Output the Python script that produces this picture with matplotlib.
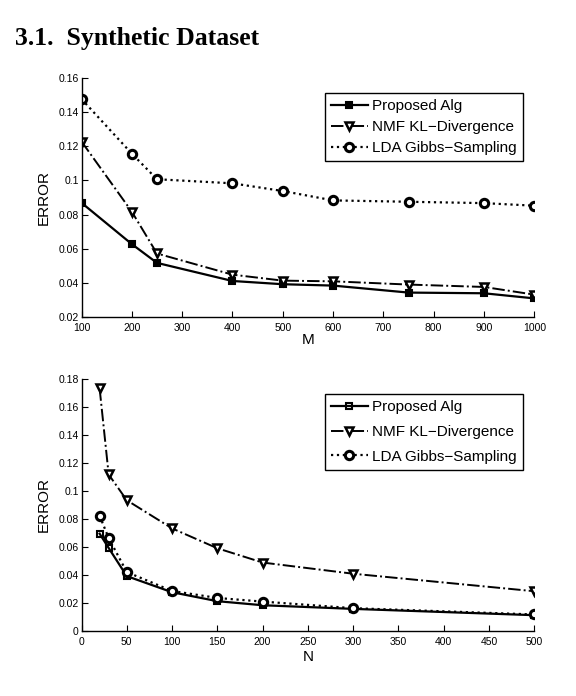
import matplotlib
matplotlib.use("Agg")
import matplotlib.pyplot as plt
from matplotlib.ticker import FuncFormatter

# ---- data ----
m_values = [100, 200, 250, 400, 500, 600, 750, 900, 1000]
m_proposed = [0.0869, 0.0627, 0.0517, 0.0411, 0.0392, 0.0384, 0.0343, 0.0339, 0.0309]
m_nmf = [0.1228, 0.0817, 0.0572, 0.0448, 0.0413, 0.0409, 0.0390, 0.0376, 0.0331]
m_lda = [0.1477, 0.1157, 0.1007, 0.0983, 0.0938, 0.0883, 0.0875, 0.0867, 0.0852]

n_values = [20, 30, 50, 100, 150, 200, 300, 500]
n_proposed = [0.0695, 0.0593, 0.0392, 0.0277, 0.0213, 0.0184, 0.0158, 0.0113]
n_nmf = [0.1733, 0.1118, 0.0934, 0.0733, 0.0591, 0.0489, 0.0409, 0.0284]
n_lda = [0.0823, 0.0664, 0.0421, 0.0286, 0.0236, 0.0210, 0.0163, 0.0118]

labels = ["Proposed Alg", "NMF KL\u2212Divergence", "LDA Gibbs\u2212Sampling"]
title = "3.1.  Synthetic Dataset"

m_xticks = [100, 200, 300, 400, 500, 600, 700, 800, 900, 1000]
m_yticks = [0.02, 0.04, 0.06, 0.08, 0.1, 0.12, 0.14, 0.16]
n_xticks = [0, 50, 100, 150, 200, 250, 300, 350, 400, 450, 500]
n_yticks = [0, 0.02, 0.04, 0.06, 0.08, 0.1, 0.12, 0.14, 0.16, 0.18]

plt.rcParams['font.family'] = ['Liberation Sans', 'DejaVu Sans']

W, H = 576, 696
fig = plt.figure(figsize=(W / 100, H / 100), dpi=100)

fig.text(15 / W, 1 - 45 / H, title, family=['Liberation Serif', 'DejaVu Serif'],
         fontweight='bold', fontsize=18.5, ha='left', va='baseline')

fmt = FuncFormatter(lambda v, p: ('%g' % round(v, 4)))


def make_axes(rect, x, ys, xticks, yticks, xlim, ylim, xlabel, leg_rect, labsp, sq_fill):
    ax = fig.add_axes(rect)
    ax.plot(x, ys[0], color='k', lw=1.6, ls='-', marker='s', ms=5,
            mfc='k' if sq_fill else 'none', mec='k', mew=1.5, label=labels[0])
    ax.plot(x, ys[1], color='k', lw=1.4, ls='-.', marker='v', ms=6,
            mfc='white', mec='k', mew=1.8, label=labels[1])
    ax.plot(x, ys[2], color='k', lw=1.6, ls=':', marker='o', ms=6,
            mfc='white', mec='k', mew=2.2, label=labels[2])
    ax.set_xlim(*xlim)
    ax.set_ylim(*ylim)
    ax.set_xticks(xticks)
    ax.set_yticks(yticks)
    ax.xaxis.set_major_formatter(fmt)
    ax.yaxis.set_major_formatter(fmt)
    ax.tick_params(direction='in', length=4, width=0.8, labelsize=7.5)
    ax.tick_params(axis='y', pad=2)
    ax.tick_params(axis='x', pad=4)
    for s in ('top', 'right'):
        ax.spines[s].set_visible(False)
    for s in ('left', 'bottom'):
        ax.spines[s].set_linewidth(1.0)
    ax.set_ylabel('ERROR', fontsize=11)
    ax.set_xlabel(xlabel, fontsize=11)
    ax.yaxis.set_label_coords(-0.067, 0.5)
    leg = ax.legend(loc='upper right', bbox_to_anchor=leg_rect, fontsize=11,
                    frameon=True, fancybox=False, edgecolor='k', framealpha=1,
                    handlelength=2.4, handletextpad=0.3, labelspacing=labsp,
                    borderpad=0.4, borderaxespad=0)
    leg.get_frame().set_linewidth(1.0)
    return ax


left = 81.5 / W
width = (534.3 - 81.5) / W

ax1 = make_axes([left, 1 - 317 / H, width, (317 - 78) / H], m_values,
                [m_proposed, m_nmf, m_lda], m_xticks, m_yticks, (100, 1000), (0.02, 0.16),
                'M', (0.975, 0.937), 0.45, True)
ax1.xaxis.set_label_coords(0.5, -0.065)

ax2 = make_axes([left, 1 - 631 / H, width, (631 - 379) / H], n_values,
                [n_proposed, n_nmf, n_lda], n_xticks, n_yticks, (0, 500), (0, 0.18),
                'N', (0.975, 0.94), 0.7, False)
ax2.xaxis.set_label_coords(0.5, -0.075)

fig.savefig('out.png', dpi=100)
